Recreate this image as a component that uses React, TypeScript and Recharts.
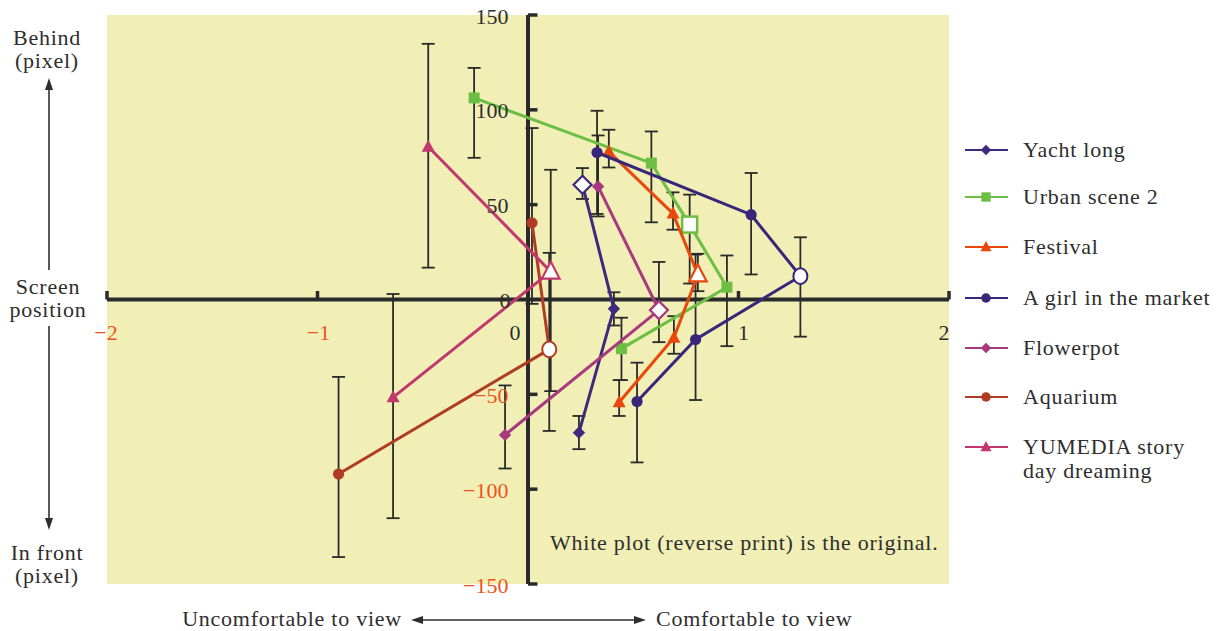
import React from 'react';
import {
  ScatterChart,
  Scatter,
  XAxis,
  YAxis,
  ErrorBar,
  ReferenceLine,
  CartesianGrid,
  Legend,
} from 'recharts';

// ---------------- data ----------------
const xTicks = [-2, -1, 0, 1, 2];
const yTicks = [-150, -100, -50, 0, 50, 100, 150];

const seriesNames = [
  'Yacht long',
  'Urban scene 2',
  'Festival',
  'A girl in the market',
  'Flowerpot',
  'Aquarium',
  'YUMEDIA story day dreaming',
];

const yachtX = [0.259, 0.408, 0.242];
const yachtY = [60.5, -4.9, -70.2];
const yachtLow = [53.0, -13.7, -78.9];
const yachtHigh = [69.3, 3.8, -61.4];
const yachtOriginal = 0;

const urbanX = [-0.256, 0.586, 0.768, 0.945, 0.444];
const urbanY = [106.3, 71.9, 39.5, 6.5, -25.9];
const urbanLow = [74.7, 40.7, 8.4, -24.6, -42.5];
const urbanHigh = [122.1, 88.6, 55.3, 23.2, -9.6];
const urbanOriginal = 2;

const festivalX = [0.384, 0.689, 0.807, 0.693, 0.433];
const festivalY = [78.0, 45.3, 13.2, -20.2, -54.2];
const festivalLow = [69.6, 36.8, 4.4, -28.6, -61.4];
const festivalHigh = [89.5, 56.5, 24.1, -8.8, -42.5];
const festivalOriginal = 2;

const girlX = [0.328, 1.06, 1.294, 0.796, 0.518];
const girlY = [77.5, 44.7, 12.3, -21.1, -53.8];
const girlLow = [45.1, 13.2, -19.6, -53.0, -85.9];
const girlHigh = [99.5, 66.7, 32.8, 23.7, -33.3];
const girlOriginal = 2;

const flowerX = [0.333, 0.622, -0.109];
const flowerY = [59.6, -5.6, -71.4];
const flowerLow = [43.8, -22.5, -89.1];
const flowerHigh = [86.5, 19.8, -45.3];
const flowerOriginal = 1;

const aquariumX = [0.019, 0.101, -0.9];
const aquariumY = [40.4, -26.3, -92.0];
const aquariumLow = [-2.3, -69.3, -135.8];
const aquariumHigh = [90.4, 24.6, -40.8];
const aquariumOriginal = 1;

const yumediaX = [-0.474, 0.108, -0.641];
const yumediaY = [80.5, 14.7, -51.6];
const yumediaLow = [16.8, -48.3, -115.3];
const yumediaHigh = [134.8, 68.4, 2.9];
const yumediaOriginal = 1;

// ---------------- styles ----------------
const CHART_W = 1218;
const CHART_H = 631;
const MARGIN = { top: 15, right: 269, bottom: 46, left: 106 };
const PLOT_W = CHART_W - MARGIN.left - MARGIN.right;
const PLOT_H = CHART_H - MARGIN.top - MARGIN.bottom;
const ZERO_X = MARGIN.left + PLOT_W / 2;
const ZERO_Y = MARGIN.top + PLOT_H / 2;

const FONT = '"Liberation Serif", "DejaVu Serif", serif';
const FS = 22;
const LS = 0.75;
const TEXT = '#2e2e2e';
const ORANGE = '#EE5220';
const AXIS = '#2a2a2a';
const BG = '#F1EFB6';

type Kind = 'diamond' | 'square' | 'triangle' | 'circle';

const COLORS = ['#3D2A7C', '#6CBE45', '#E8480C', '#37267A', '#A8397F', '#B03C25', '#C0386E'];
const KINDS: Kind[] = ['diamond', 'square', 'triangle', 'circle', 'diamond', 'circle', 'triangle'];

function build(xs: number[], ys: number[], lows: number[], highs: number[], orig: number) {
  return xs.map((x, i) => ({
    x,
    y: ys[i],
    err: [ys[i] - lows[i], highs[i] - ys[i]],
    orig: i === orig,
  }));
}

const seriesData = [
  build(yachtX, yachtY, yachtLow, yachtHigh, yachtOriginal),
  build(urbanX, urbanY, urbanLow, urbanHigh, urbanOriginal),
  build(festivalX, festivalY, festivalLow, festivalHigh, festivalOriginal),
  build(girlX, girlY, girlLow, girlHigh, girlOriginal),
  build(flowerX, flowerY, flowerLow, flowerHigh, flowerOriginal),
  build(aquariumX, aquariumY, aquariumLow, aquariumHigh, aquariumOriginal),
  build(yumediaX, yumediaY, yumediaLow, yumediaHigh, yumediaOriginal),
];

function Marker({ kind, cx, cy, color, hollow, scale = 1 }: { kind: Kind; cx: number; cy: number; color: string; hollow: boolean; scale?: number }) {
  const fill = hollow ? '#ffffff' : color;
  const sw = hollow ? 2.2 : 0;
  if (kind === 'diamond') {
    const r = (hollow ? 9 : 6.2) * scale;
    return (
      <polygon
        points={`${cx},${cy - r} ${cx + r},${cy} ${cx},${cy + r} ${cx - r},${cy}`}
        fill={fill}
        stroke={color}
        strokeWidth={sw}
      />
    );
  }
  if (kind === 'square') {
    const h = (hollow ? 7.5 : 5.5) * scale;
    return <rect x={cx - h} y={cy - h - (hollow ? 0.5 : 0)} width={2 * h} height={2 * h + (hollow ? 1 : 0)} fill={fill} stroke={color} strokeWidth={hollow ? 2.5 : 0} />;
  }
  if (kind === 'triangle') {
    const hw = (hollow ? 8.8 : 6.5) * scale;
    const up = (hollow ? 10 : 7) * scale;
    const dn = (hollow ? 7 : 5) * scale;
    return (
      <polygon
        points={`${cx},${cy - up} ${cx + hw},${cy + dn} ${cx - hw},${cy + dn}`}
        fill={fill}
        stroke={color}
        strokeWidth={sw}
        strokeLinejoin="miter"
      />
    );
  }
  if (hollow) {
    return <ellipse cx={cx} cy={cy} rx={7 * scale} ry={7.8 * scale} fill={fill} stroke={color} strokeWidth={2} />;
  }
  return <circle cx={cx} cy={cy} r={5.6 * scale} fill={fill} />;
}

function makeShape(kind: Kind, color: string) {
  return (props: any) => {
    const { cx, cy, payload } = props;
    if (cx == null || cy == null) return <g />;
    return <Marker kind={kind} cx={cx} cy={cy} color={color} hollow={!!(payload && payload.orig)} />;
  };
}

const fmt = (v: number) => (v < 0 ? `\u2212${Math.abs(v)}` : `${v}`);

const XTick = (props: any) => {
  const { x, payload } = props;
  const v = payload.value;
  const dx = v === 0 ? -13 : v === 1 ? 5 : v === 2 ? -5 : v === -2 ? -1 : 1;
  return (
    <text
      x={x + dx}
      y={ZERO_Y + 32}
      textAnchor="middle"
      dominantBaseline="central"
      fontSize={FS}
      fontFamily={FONT}
      fill={v < 0 ? ORANGE : TEXT}
    >
      {fmt(v)}
    </text>
  );
};

const YTick = (props: any) => {
  const { y, payload } = props;
  const v = payload.value;
  return (
    <text
      x={ZERO_X - 19 + (v === 0 ? 2 : 0)}
      y={y + 1}
      textAnchor="end"
      dominantBaseline="central"
      fontSize={FS}
      fontFamily={FONT}
      fill={v < 0 ? ORANGE : TEXT}
    >
      {fmt(v)}
    </text>
  );
};

const legendRows = [149, 196, 246, 297, 347, 396, 446];
const LEGEND_LEFT = 958;
const LEGEND_TOP = 120;

const LegendContent = () => (
  <svg width={260} height={380} style={{ display: 'block', overflow: 'visible' }}>
    {seriesNames.map((name, i) => {
      const cy = legendRows[i] - LEGEND_TOP;
      const color = COLORS[i];
      const lines = i === 6 ? ['YUMEDIA story', 'day dreaming'] : [name];
      return (
        <g key={name}>
          <line x1={7} y1={cy + 1} x2={50} y2={cy + 1} stroke={color} strokeWidth={2.2} />
          <Marker kind={KINDS[i]} cx={28} cy={cy + 1} color={color} hollow={false} scale={0.85} />
          {lines.map((t, j) => (
            <text
              key={t}
              x={65}
              y={cy + j * 24}
              dominantBaseline="central"
              fontSize={FS}
              letterSpacing={LS}
              fontFamily={FONT}
              fill={TEXT}
            >
              {t}
            </text>
          ))}
        </g>
      );
    })}
  </svg>
);

const yTickMarks = [-150, -100, -50, 50, 100, 150];
const xTickMarks = [-2, -1, 1, 2];

export default function App() {
  return (
    <div
      style={{
        position: 'absolute',
        left: 0,
        top: 0,
        width: CHART_W,
        height: CHART_H,
        background: '#ffffff',
        fontFamily: FONT,
        overflow: 'hidden',
      }}
    >
      <ScatterChart width={CHART_W} height={CHART_H} margin={MARGIN}>
        <CartesianGrid fill={BG} fillOpacity={1} stroke="none" horizontal={false} vertical={false} />
        <XAxis
          type="number"
          dataKey="x"
          domain={[-2, 2]}
          ticks={xTicks}
          interval={0}
          allowDataOverflow
          axisLine={false}
          tickLine={false}
          height={1}
          tick={<XTick />}
        />
        <YAxis
          type="number"
          dataKey="y"
          domain={[-150, 150]}
          ticks={yTicks}
          interval={0}
          allowDataOverflow
          axisLine={false}
          tickLine={false}
          width={1}
          tick={<YTick />}
        />
        <ReferenceLine y={0} stroke={AXIS} strokeWidth={4} />
        <ReferenceLine x={0} stroke={AXIS} strokeWidth={4} />
        {xTickMarks.map((v) => (
          <ReferenceLine key={`xt${v}`} segment={[{ x: v, y: 0 }, { x: v, y: 4.5 }]} stroke={AXIS} strokeWidth={3.5} />
        ))}
        {yTickMarks.map((v) => (
          <ReferenceLine key={`yt${v}`} segment={[{ x: 0, y: v }, { x: 0.045, y: v }]} stroke={AXIS} strokeWidth={3.5} />
        ))}
        {seriesData.map((data, i) => (
          <Scatter
            key={seriesNames[i]}
            name={seriesNames[i]}
            data={data}
            fill={COLORS[i]}
            line={{ stroke: COLORS[i], strokeWidth: 3 }}
            lineType="joint"
            shape={makeShape(KINDS[i], COLORS[i])}
            isAnimationActive={false}
          >
            <ErrorBar
              dataKey="err"
              direction="y"
              width={6.5}
              stroke={AXIS}
              strokeWidth={1.8}
              isAnimationActive={false}
            />
          </Scatter>
        ))}
        <Legend
          layout="horizontal"
          verticalAlign="middle"
          align="center"
          width={260}
          wrapperStyle={{ left: LEGEND_LEFT, top: LEGEND_TOP, width: 260, height: 380 }}
          content={<LegendContent />}
        />
      </ScatterChart>

      <svg
        width={CHART_W}
        height={CHART_H}
        style={{ position: 'absolute', left: 0, top: 0, pointerEvents: 'none' }}
      >
        <g fontFamily={FONT} fontSize={FS} fill={TEXT} letterSpacing={LS}>
          <text x={47} y={37} textAnchor="middle" dominantBaseline="central">Behind</text>
          <text x={47} y={60} textAnchor="middle" dominantBaseline="central">(pixel)</text>
          <text x={48} y={286} textAnchor="middle" dominantBaseline="central">Screen</text>
          <text x={48} y={309} textAnchor="middle" dominantBaseline="central">position</text>
          <text x={47} y={552} textAnchor="middle" dominantBaseline="central">In front</text>
          <text x={47} y={575} textAnchor="middle" dominantBaseline="central">(pixel)</text>
          <text x={402} y={618} textAnchor="end" dominantBaseline="central">Uncomfortable to view</text>
          <text x={656} y={618} dominantBaseline="central">Comfortable to view</text>
          <text x={550} y={542} dominantBaseline="central">White plot (reverse print) is the original.</text>
        </g>
        <g stroke={TEXT} strokeWidth={1.6}>
          <line x1={49} y1={86} x2={49} y2={270} />
          <line x1={49} y1={326} x2={49} y2={522} />
          <line x1={420} y1={620} x2={637} y2={620} />
        </g>
        <g fill={TEXT}>
          <polygon points="49,78 45,90 53,90" />
          <polygon points="49,530 45,518 53,518" />
          <polygon points="411,620 423,616 423,624" />
          <polygon points="646,620 634,616 634,624" />
        </g>
      </svg>
    </div>
  );
}
